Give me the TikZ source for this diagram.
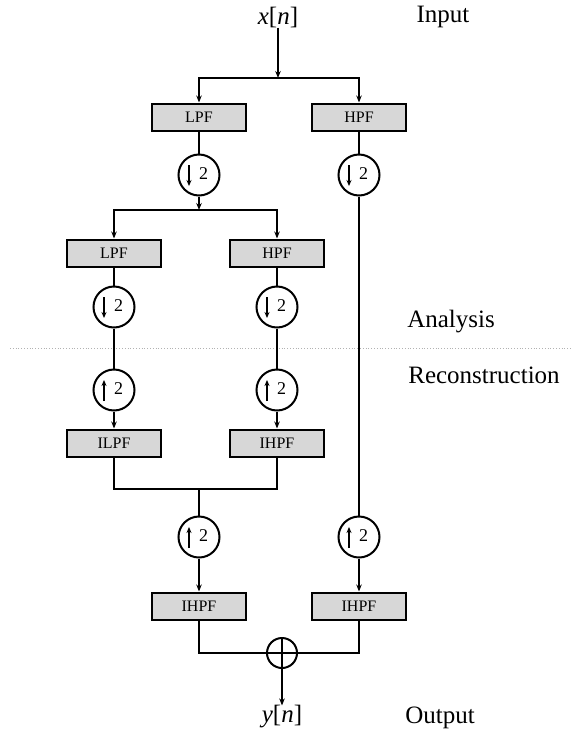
\documentclass[tikz,border=0pt]{standalone}
\usepackage{fontspec}
\setmainfont{Liberation Serif}
\usetikzlibrary{arrows.meta}

\begin{document}
\begin{tikzpicture}[x=1pt, y=-1pt]
        \tikzstyle{filt}=[rectangle, fill={rgb,255:red,215;green,215;blue,215}, draw=black, line width=2pt, minimum width=94pt, minimum height=27pt, inner sep=0pt, font=\fontsize{16}{18}\selectfont]
        \tikzstyle{samp}=[circle, draw=black, line width=2pt, minimum size=41pt, inner sep=0pt, fill=white, font=\fontsize{18}{20}\selectfont]
        \tikzstyle{tip}=[line width=1.6pt, -{Stealth[length=6pt, width=5pt]}]
        \tikzstyle{sampdn}=[samp, path picture={\draw[tip] ([xshift=-10pt, yshift=10pt]path picture bounding box.center) -- ([xshift=-10pt, yshift=-11pt]path picture bounding box.center);}]
        \tikzstyle{sampup}=[samp, path picture={\draw[tip] ([xshift=-10pt, yshift=-11pt]path picture bounding box.center) -- ([xshift=-10pt, yshift=10pt]path picture bounding box.center);}]
        \tikzstyle{sum}=[circle, draw=black, line width=2pt, minimum size=30pt, inner sep=0pt]
        \tikzstyle{sig}=[inner sep=0pt, font=\fontsize{25}{28}\selectfont]
        \tikzstyle{lbl}=[inner sep=0pt, font=\fontsize{25}{28}\selectfont]
        \tikzstyle{wire}=[line width=2pt]
        \tikzstyle{arr}=[wire, -{Stealth[length=7pt, width=5.5pt]}]

        \useasboundingbox (0,0) rectangle (571,734);

        \node[sig] (xn) at (278,17) {\textit{x}[\textit{n}]};
        \node[lbl] (input) at (443,17) {Input};

        \node[filt] (lpf1) at (199,117) {LPF};
        \node[filt] (hpf1) at (359,117) {HPF};
        \node[sampdn] (d1)  at (199,175) {\hspace{9pt}\raisebox{3pt}{2}};
        \node[sampdn] (d1r) at (359,175) {\hspace{9pt}\raisebox{3pt}{2}};

        \node[filt] (lpf2) at (114,253) {LPF};
        \node[filt] (hpf2) at (277,253) {HPF};
        \node[sampdn] (d2a) at (114,307) {\hspace{9pt}\raisebox{3pt}{2}};
        \node[sampdn] (d2b) at (277,307) {\hspace{9pt}\raisebox{3pt}{2}};

        \node[lbl] (ana) at (451,322) {Analysis};
        \node[lbl] (rec) at (484,375) {Reconstruction};

        \node[sampup] (u2a) at (114,390) {\hspace{9pt}\raisebox{3pt}{2}};
        \node[sampup] (u2b) at (277,390) {\hspace{9pt}\raisebox{3pt}{2}};
        \node[filt] (ilpf) at (114,443) {ILPF};
        \node[filt] (ihpf) at (277,443) {IHPF};

        \node[sampup] (u1l) at (199,537) {\hspace{9pt}\raisebox{3pt}{2}};
        \node[sampup] (u1r) at (359,537) {\hspace{9pt}\raisebox{3pt}{2}};
        \node[filt] (ihpfl) at (199,606) {IHPF};
        \node[filt] (ihpfr) at (359,606) {IHPF};

        \node[sum] (sum) at (282,653) {};
        \node[sig] (yn) at (282,717) {\textit{y}[\textit{n}]};
        \node[lbl] (output) at (440,718) {Output};

        \coordinate (s1) at (278,78);
        \coordinate (s2) at (199,210);
        \coordinate (j1) at (199,489);

        \draw[gray!60, line width=0.8pt, dotted] (10,348) -- (571,348);

        \draw[arr] (xn) -- (s1);
        \draw[arr] (s1) -| (lpf1);
        \draw[arr] (s1) -| (hpf1);
        \draw[wire] (lpf1) -- (d1);
        \draw[arr] (d1) -- (s2);
        \draw[wire] (hpf1) -- (d1r);
        \draw[arr] (s2) -| (lpf2);
        \draw[arr] (s2) -| (hpf2);

        \draw[wire] (lpf2) -- (d2a) -- (u2a);
        \draw[wire] (hpf2) -- (d2b) -- (u2b);
        \draw[arr] (u2a) -- (ilpf);
        \draw[arr] (u2b) -- (ihpf);

        \draw[wire] (ilpf) |- (j1) -| (ihpf);
        \draw[wire] (j1) -- (u1l);
        \draw[arr] (u1l) -- (ihpfl);
        \draw[wire] (d1r) -- (u1r);
        \draw[arr] (u1r) -- (ihpfr);

        \draw[wire] (ihpfl) |- (sum);
        \draw[wire] (ihpfr) |- (sum);
        \draw[wire] (sum.north) -- (sum.south) (sum.west) -- (sum.east);
        \draw[arr] (sum) -- (yn);
    \end{tikzpicture}
\end{document}
